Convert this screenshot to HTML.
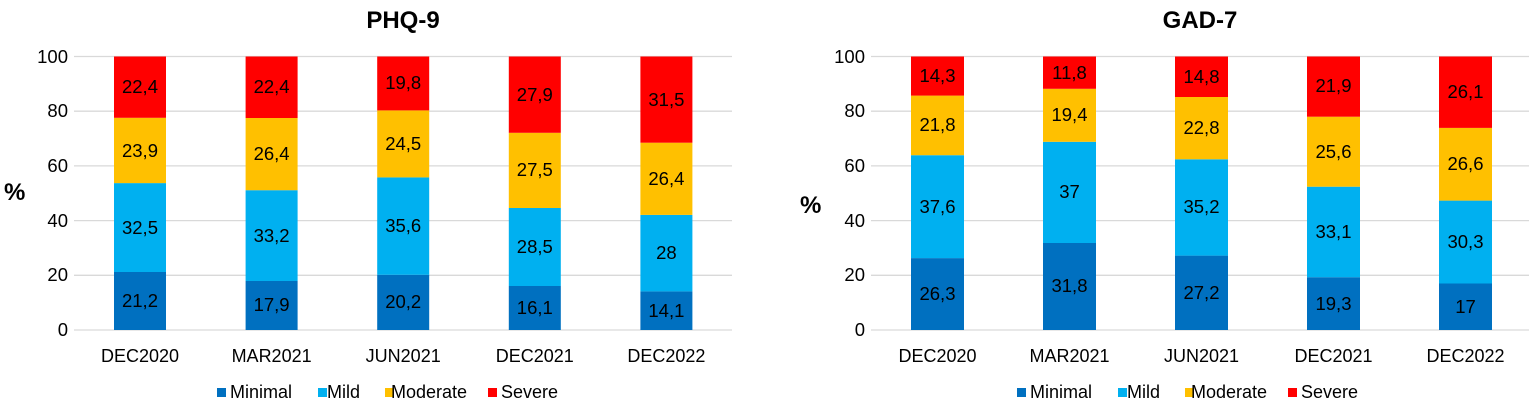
<!DOCTYPE html>
<html><head><meta charset="utf-8"><style>
html,body{margin:0;padding:0;background:#fff;}
svg{display:block;font-family:"Liberation Sans",Arial,sans-serif;}
</style></head><body>
<svg width="1535" height="401" viewBox="0 0 1535 401" xmlns="http://www.w3.org/2000/svg">
<g stroke="#d9d9d9" stroke-width="1.3">
<line x1="74" x2="732" y1="330" y2="330"/><line x1="74" x2="732" y1="275.3" y2="275.3"/><line x1="74" x2="732" y1="220.6" y2="220.6"/><line x1="74" x2="732" y1="165.9" y2="165.9"/><line x1="74" x2="732" y1="111.2" y2="111.2"/><line x1="74" x2="732" y1="56.5" y2="56.5"/>
<line x1="871" x2="1529" y1="330" y2="330"/><line x1="871" x2="1529" y1="275.3" y2="275.3"/><line x1="871" x2="1529" y1="220.6" y2="220.6"/><line x1="871" x2="1529" y1="165.9" y2="165.9"/><line x1="871" x2="1529" y1="111.2" y2="111.2"/><line x1="871" x2="1529" y1="56.5" y2="56.5"/>
</g>
<g font-size="18.5" fill="#000" text-anchor="end">
<text x="68" y="336">0</text><text x="68" y="281">20</text><text x="68" y="227">40</text><text x="68" y="172">60</text><text x="68" y="117">80</text><text x="68" y="63">100</text>
<text x="865" y="336">0</text><text x="865" y="281">20</text><text x="865" y="227">40</text><text x="865" y="172">60</text><text x="865" y="117">80</text><text x="865" y="63">100</text>
</g>
<text x="403" y="28" font-size="24" font-weight="bold" text-anchor="middle">PHQ-9</text>
<text x="1200" y="28" font-size="24" font-weight="bold" text-anchor="middle">GAD-7</text>
<text x="4" y="200" font-size="24" font-weight="bold">%</text>
<text x="800" y="213" font-size="24" font-weight="bold">%</text>
<g>
<rect x="114" y="272" width="52" height="58" fill="#0070C0"/><rect x="114" y="183.1" width="52" height="88.9" fill="#00B0F0"/><rect x="114" y="117.8" width="52" height="65.3" fill="#FFC000"/><rect x="114" y="56.5" width="52" height="61.3" fill="#FF0000"/>
<rect x="245.6" y="281" width="52" height="49" fill="#0070C0"/><rect x="245.6" y="190.2" width="52" height="90.8" fill="#00B0F0"/><rect x="245.6" y="118" width="52" height="72.2" fill="#FFC000"/><rect x="245.6" y="56.5" width="52" height="61.5" fill="#FF0000"/>
<rect x="377.2" y="274.8" width="52" height="55.2" fill="#0070C0"/><rect x="377.2" y="177.4" width="52" height="97.4" fill="#00B0F0"/><rect x="377.2" y="110.4" width="52" height="67" fill="#FFC000"/><rect x="377.2" y="56.5" width="52" height="53.9" fill="#FF0000"/>
<rect x="508.8" y="286" width="52" height="44" fill="#0070C0"/><rect x="508.8" y="208" width="52" height="78" fill="#00B0F0"/><rect x="508.8" y="132.8" width="52" height="75.2" fill="#FFC000"/><rect x="508.8" y="56.5" width="52" height="76.3" fill="#FF0000"/>
<rect x="640.4" y="291.4" width="52" height="38.6" fill="#0070C0"/><rect x="640.4" y="214.9" width="52" height="76.5" fill="#00B0F0"/><rect x="640.4" y="142.7" width="52" height="72.2" fill="#FFC000"/><rect x="640.4" y="56.5" width="52" height="86.2" fill="#FF0000"/>
</g>
<g>
<rect x="911" y="258.1" width="53" height="71.9" fill="#0070C0"/><rect x="911" y="155.2" width="53" height="102.9" fill="#00B0F0"/><rect x="911" y="95.6" width="53" height="59.6" fill="#FFC000"/><rect x="911" y="56.5" width="53" height="39.1" fill="#FF0000"/>
<rect x="1043" y="243" width="53" height="87" fill="#0070C0"/><rect x="1043" y="141.8" width="53" height="101.2" fill="#00B0F0"/><rect x="1043" y="88.8" width="53" height="53" fill="#FFC000"/><rect x="1043" y="56.5" width="53" height="32.3" fill="#FF0000"/>
<rect x="1175" y="255.6" width="53" height="74.4" fill="#0070C0"/><rect x="1175" y="159.3" width="53" height="96.3" fill="#00B0F0"/><rect x="1175" y="97" width="53" height="62.3" fill="#FFC000"/><rect x="1175" y="56.5" width="53" height="40.5" fill="#FF0000"/>
<rect x="1307" y="277.2" width="53" height="52.8" fill="#0070C0"/><rect x="1307" y="186.7" width="53" height="90.5" fill="#00B0F0"/><rect x="1307" y="116.7" width="53" height="70" fill="#FFC000"/><rect x="1307" y="56.5" width="53" height="60.2" fill="#FF0000"/>
<rect x="1439" y="283.5" width="53" height="46.5" fill="#0070C0"/><rect x="1439" y="200.6" width="53" height="82.9" fill="#00B0F0"/><rect x="1439" y="127.9" width="53" height="72.7" fill="#FFC000"/><rect x="1439" y="56.5" width="53" height="71.4" fill="#FF0000"/>
</g>
<g font-size="18.5" text-anchor="middle" fill="#000">
<text x="140" y="307">21,2</text><text x="140" y="234">32,5</text><text x="140" y="157">23,9</text><text x="140" y="93">22,4</text>
<text x="271.6" y="311">17,9</text><text x="271.6" y="242">33,2</text><text x="271.6" y="160">26,4</text><text x="271.6" y="93">22,4</text>
<text x="403.2" y="308">20,2</text><text x="403.2" y="232">35,6</text><text x="403.2" y="150">24,5</text><text x="403.2" y="89">19,8</text>
<text x="534.8" y="314">16,1</text><text x="534.8" y="253">28,5</text><text x="534.8" y="176">27,5</text><text x="534.8" y="101">27,9</text>
<text x="666.4" y="317">14,1</text><text x="666.4" y="259">28</text><text x="666.4" y="185">26,4</text><text x="666.4" y="106">31,5</text>
<text x="937.5" y="300">26,3</text><text x="937.5" y="213">37,6</text><text x="937.5" y="131">21,8</text><text x="937.5" y="82">14,3</text>
<text x="1069.5" y="292">31,8</text><text x="1069.5" y="198">37</text><text x="1069.5" y="121">19,4</text><text x="1069.5" y="79">11,8</text>
<text x="1201.5" y="299">27,2</text><text x="1201.5" y="213">35,2</text><text x="1201.5" y="134">22,8</text><text x="1201.5" y="83">14,8</text>
<text x="1333.5" y="310">19,3</text><text x="1333.5" y="238">33,1</text><text x="1333.5" y="158">25,6</text><text x="1333.5" y="92">21,9</text>
<text x="1465.5" y="313">17</text><text x="1465.5" y="248">30,3</text><text x="1465.5" y="170">26,6</text><text x="1465.5" y="98">26,1</text>
</g>
<g font-size="18" text-anchor="middle">
<text x="140" y="362">DEC2020</text><text x="271.6" y="362">MAR2021</text><text x="403.2" y="362">JUN2021</text><text x="534.8" y="362">DEC2021</text><text x="666.4" y="362">DEC2022</text>
<text x="937.5" y="362">DEC2020</text><text x="1069.5" y="362">MAR2021</text><text x="1201.5" y="362">JUN2021</text><text x="1333.5" y="362">DEC2021</text><text x="1465.5" y="362">DEC2022</text>
</g>
<g font-size="18">
<rect x="217" y="388" width="9" height="9" fill="#0070C0"/><text x="230" y="398">Minimal</text>
<rect x="318" y="388" width="9" height="9" fill="#00B0F0"/><text x="327" y="398">Mild</text>
<rect x="385" y="388" width="9" height="9" fill="#FFC000"/><text x="391" y="398">Moderate</text>
<rect x="488" y="388" width="9" height="9" fill="#FF0000"/><text x="501" y="398">Severe</text>
<rect x="1017" y="388" width="9" height="9" fill="#0070C0"/><text x="1030" y="398">Minimal</text>
<rect x="1118" y="388" width="9" height="9" fill="#00B0F0"/><text x="1127" y="398">Mild</text>
<rect x="1185" y="388" width="9" height="9" fill="#FFC000"/><text x="1191" y="398">Moderate</text>
<rect x="1288" y="388" width="9" height="9" fill="#FF0000"/><text x="1301" y="398">Severe</text>
</g>
</svg>
</body></html>
